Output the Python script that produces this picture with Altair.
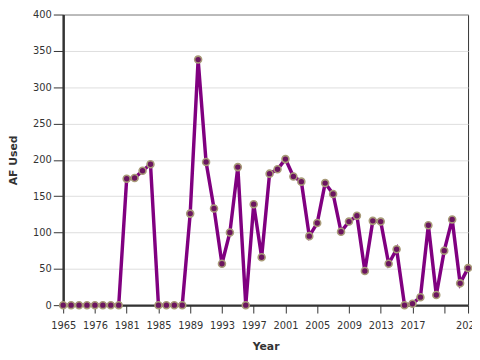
import altair as alt
import pandas as pd

years = [1965, 1970, 1973, 1975, 1976, 1977, 1978, 1980,
         1981, 1982, 1983, 1984, 1985, 1986, 1987, 1988, 1989, 1990,
         1991, 1992, 1993, 1994, 1995, 1996, 1997, 1998, 1999, 2000,
         2001, 2002, 2003, 2004, 2005, 2006, 2007, 2008, 2009, 2010,
         2011, 2012, 2013, 2014, 2015, 2016, 2017, 2018, 2019, 2020,
         2021, 2022, 2023, 2024]
af_used = [0, 0, 0, 0, 0, 0, 0, 0,
           174, 175, 185, 194, 0, 0, 0, 0, 126, 338,
           197, 133, 57, 100, 190, 0, 139, 66, 181, 187,
           201, 177, 170, 95, 113, 168, 153, 101, 115, 123,
           47, 116, 115, 57, 77, 0, 2, 11, 110, 14,
           75, 118, 30, 51]
tick_years = [1965, 1976, 1981, 1985, 1989, 1993, 1997, 2001, 2005,
              2009, 2013, 2017, 2021, 2024]
y_ticks = [0, 50, 100, 150, 200, 250, 300, 350, 400]

df = pd.DataFrame({"Year": years, "af": af_used})

x = alt.X("Year:O", scale=alt.Scale(type="point", padding=0),
          axis=alt.Axis(values=tick_years, labelAngle=0, title="Year",
                        grid=False, tickSize=8, labelPadding=8,
                        labelOverlap=False, labelBound=False,
                        labelExpr="datum.value == 2021 ? '' : datum.label",
                        titlePadding=10))
y = alt.Y("af:Q", scale=alt.Scale(domain=[0, 400], nice=False),
          axis=alt.Axis(values=y_ticks, title="AF Used", grid=True,
                        tickSize=10, labelPadding=2, titlePadding=14))

base = alt.Chart(df).encode(x=x, y=y)
line = base.mark_line(color="#800080", strokeWidth=3.5)
pts = base.mark_point(filled=True, fill="#6b1560", stroke="#a89b78",
                      strokeWidth=1.6, size=50, opacity=1, fillOpacity=1)

chart = (line + pts).properties(
    width=411, height=295,
    autosize=alt.AutoSizeParams(type="none"),
    padding={"left": 56, "top": 4, "right": 4, "bottom": 50},
).configure_axis(
    labelFont="DejaVu Sans", labelFontSize=10, labelColor="#333",
    titleFont="DejaVu Sans", titleFontSize=11, titleFontWeight="bold",
    titleColor="#333", domainColor="#333", domainWidth=2.5,
    tickColor="#333", tickWidth=1, gridColor="#dddddd",
).configure_view(stroke="#333", strokeWidth=1)

chart.save("out.html", embed_options={"renderer": "svg", "actions": False})
